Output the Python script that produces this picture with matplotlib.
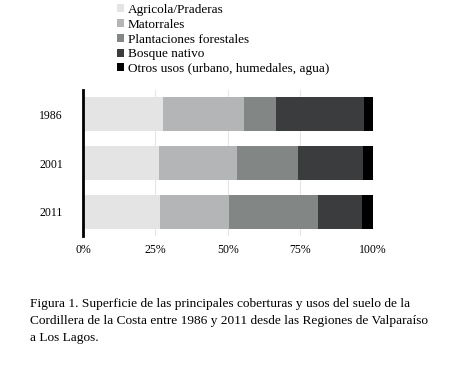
import matplotlib
matplotlib.use("Agg")
from matplotlib import pyplot as plt
from matplotlib.patches import Patch

plt.rcParams['font.family'] = ['Liberation Serif', 'DejaVu Serif']

years = ["1986", "2001", "2011"]
categorias = ["Agricola/Praderas", "Matorrales", "Plantaciones forestales",
              "Bosque nativo", "Otros usos (urbano, humedales, agua)"]
agricola = [27.6, 26.3, 26.7]
matorrales = [28.1, 27.0, 23.8]
plantaciones = [11.0, 20.9, 30.6]
bosque = [30.4, 22.4, 15.1]
otros = [2.9, 3.4, 3.8]
series = [agricola, matorrales, plantaciones, bosque, otros]
colores = ["#e4e4e4", "#b3b5b7", "#828785", "#3a3c3e", "#000000"]

fig = plt.figure(figsize=(4.67, 3.71), dpi=100)
ax = fig.add_axes([83 / 467, 1 - 236 / 371, 289.6 / 467, 146 / 371])

pos = list(range(len(years)))
left = [0, 0, 0]
for vals, col in zip(series, colores):
    ax.barh(pos, vals, left=left, height=0.7, color=col, zorder=2)
    left = [l + v for l, v in zip(left, vals)]

ax.set_xlim(0, 100)
ax.set_ylim(2.5, -0.5)
ax.set_yticks(pos)
ax.set_yticklabels(years, fontsize=8.5)
ax.set_xticks([0, 25, 50, 75, 100])
ax.set_xticklabels(["0%", "25%", "50%", "75%", "100%"], fontsize=8.5)
ax.tick_params(length=0)
ax.tick_params(axis='x', pad=6)
ax.tick_params(axis='y', pad=14.5)
ax.grid(axis='x', color="#e6e6e6", linewidth=0.8, zorder=0)
for s in ["top", "right", "bottom"]:
    ax.spines[s].set_visible(False)
ax.spines["left"].set_linewidth(2)
ax.spines["left"].set_zorder(3)

handles = [Patch(facecolor=c, edgecolor='none') for c in colores]
fig.legend(handles, categorias, loc="upper left", bbox_to_anchor=(117 / 467, 1 - 4 / 371),
           frameon=False, fontsize=9.5, handlelength=0.55, handleheight=0.55,
           handletextpad=0.25, labelspacing=0.21, borderaxespad=0, borderpad=0)

caption = ("Figura 1. Superficie de las principales coberturas y usos del suelo de la\n"
           "Cordillera de la Costa entre 1986 y 2011 desde las Regiones de Valparaíso\n"
           "a Los Lagos.")
fig.text(30 / 467, 1 - 298 / 371, caption, fontsize=9.6, va="top", ha="left",
         linespacing=1.58)

plt.savefig("out.png", dpi=100)
